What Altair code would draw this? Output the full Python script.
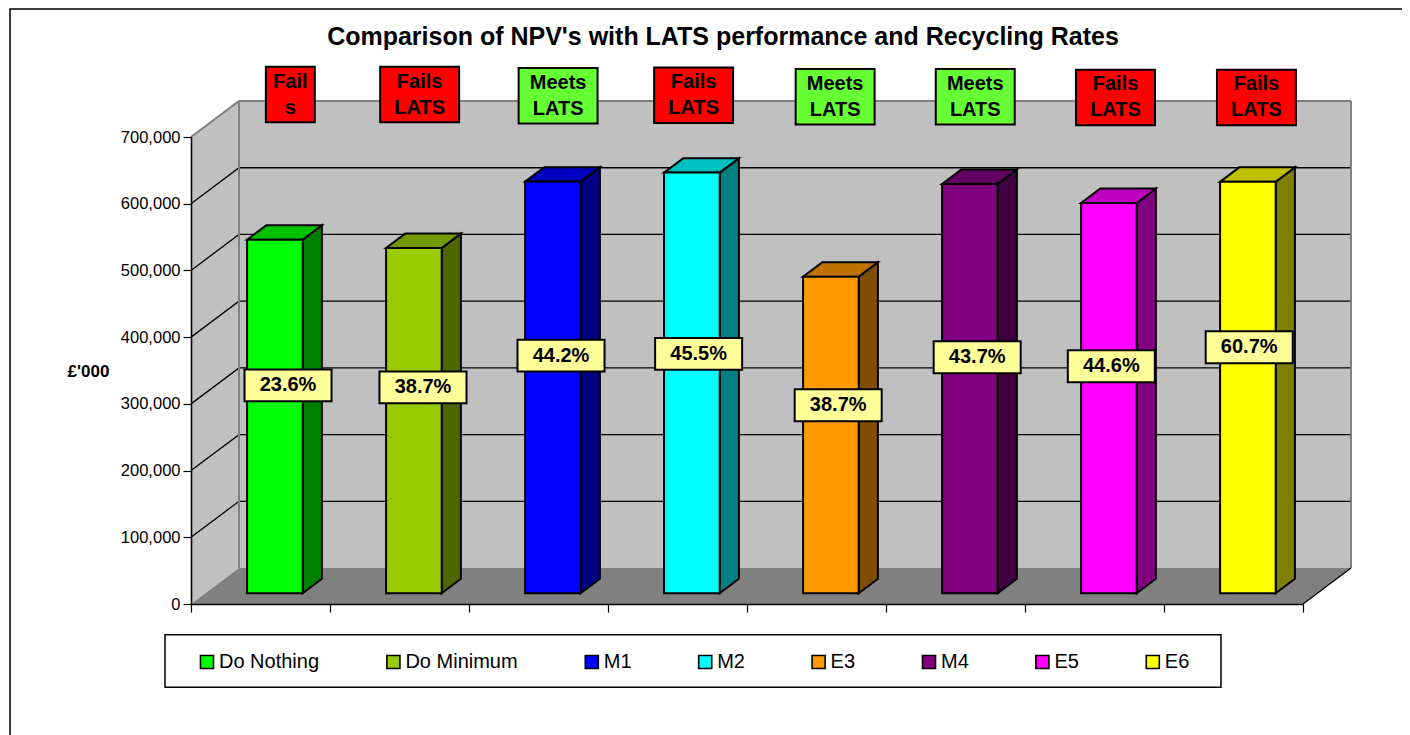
import altair as alt
import pandas as pd

# ---- chart values ----
names = ["Do Nothing", "Do Minimum", "M1", "M2", "E3", "M4", "E5", "E6"]
npv = [530000, 517500, 617000, 630500, 474500, 613500, 585000, 616800]
recycling = ["23.6%", "38.7%", "44.2%", "45.5%", "38.7%", "43.7%", "44.6%", "60.7%"]
lats = ["Fail\ns", "Fails\nLATS", "Meets\nLATS", "Fails\nLATS",
        "Meets\nLATS", "Meets\nLATS", "Fails\nLATS", "Fails\nLATS"]
front = ["#00FF00", "#99CC00", "#0000FF", "#00FFFF", "#FF9900", "#800080", "#FF00FF", "#FFFF00"]
side = ["#008000", "#4D6600", "#000080", "#008080", "#804D00", "#400040", "#800080", "#808000"]
top = ["#00C000", "#739900", "#0000C0", "#00C0C0", "#C07300", "#600060", "#C000C0", "#C0C000"]
lats_fill = {"Fail": "#FF0000", "Fails": "#FF0000", "Meets": "#66FF33"}
ticks_y = [100000, 200000, 300000, 400000, 500000, 600000]

# ---- callout placement, in chart units (category position, value level) ----
rate_pos = [0.698, 1.669, 2.662, 3.652, 4.656, 5.656, 6.621, 7.613]
rate_level = [327700, 324700, 372300, 374900, 297900, 369800, 356300, 384700]
lats_pos = [0.7146, 1.645, 2.641, 3.616, 4.634, 5.642, 6.651, 7.665]
lats_level = [763600, 763600, 761800, 762600, 760400, 760400, 759300, 759300]
lats_half = [0.176, 0.284, 0.284, 0.284, 0.284, 0.284, 0.284, 0.284]
RATE_HALF_W, RATE_HALF_H, LATS_HALF_H = 0.313, 23950, 41600

# ---- oblique projection of the 3-D chart box ----
N = len(names)
YMAX = 700000
DX = 48 / 139      # category units per unit of depth
DY = 53900         # value units per unit of depth
D0, D1 = 0.3, 0.7  # depth span of the bars
W0, W1 = 0.3, 0.7  # width span of the bars within a category

FONT = "Liberation Sans"
XS = alt.Scale(domain=[0, N], nice=False, zero=False)
YS = alt.Scale(domain=[0, YMAX], nice=False, zero=False)
AX = alt.Axis(
    title=None, values=list(range(N + 1)), labels=False, tickSize=8, tickColor="black", tickWidth=1.2,
    domainColor="black", domainWidth=1.6, grid=False, zindex=1)
AY = alt.Axis(
    values=[0] + ticks_y + [YMAX], labelExpr="format(datum.value, ',')", tickSize=8, tickColor="black",
    tickWidth=1.2, domainColor="black", domainWidth=1.6, grid=False, zindex=1, labelFont=FONT,
    labelFontSize=16.5, labelColor="black", labelPadding=3,
    title="£'000", titleAngle=0, titleFont=FONT, titleFontSize=17, titleFontWeight="bold",
    titleColor="black", titleX=-103, titleY=234, titleAlign="center", titleBaseline="middle")


def X(field="x"):
    return alt.X(f"{field}:Q", scale=XS, axis=AX)


def Y(field="y"):
    return alt.Y(f"{field}:Q", scale=YS, axis=AY, stack=None)


X2 = alt.X2("x2:Q")
Y2 = alt.Y2("y2:Q")

# ---- frame ----
frame = alt.Chart(pd.DataFrame([{"x": -1.302, "x2": 8.95, "y": 892000, "y2": -210000}])).mark_rect(
    fill="white", stroke="black", strokeWidth=1.5
).encode(x=X(), x2=X2, y=Y(), y2=Y2)

# ---- chart box ----
wall = alt.Chart(pd.DataFrame([{"x": DX, "x2": N + DX, "y": DY, "y2": YMAX + DY}])).mark_rect(
    fill="#C0C0C0"
).encode(x=X(), x2=X2, y=Y(), y2=Y2)

side_wall = alt.Chart(pd.DataFrame([
    {"x": 0, "y": 0, "y2": YMAX},
    {"x": DX, "y": DY, "y2": YMAX + DY},
])).mark_area(fill="#C0C0C0").encode(x=X(), y=Y(), y2=Y2)

floor = alt.Chart(pd.DataFrame([
    {"x": 0, "y": 0, "y2": 0},
    {"x": DX, "y": 0, "y2": DY},
    {"x": N, "y": 0, "y2": DY},
    {"x": N + DX, "y": DY, "y2": DY},
])).mark_area(fill="#808080").encode(x=X(), y=Y(), y2=Y2)

grid_rows = []
for v in ticks_y:
    grid_rows += [{"x": 0, "y": v, "k": v}, {"x": DX, "y": v + DY, "k": v}, {"x": N + DX, "y": v + DY, "k": v}]
grid = alt.Chart(pd.DataFrame(grid_rows)).mark_line(color="black", strokeWidth=1.3).encode(
    x=X(), y=Y(), detail="k:N"
)

top_edge = alt.Chart(pd.DataFrame([
    {"x": 0, "y": YMAX}, {"x": DX, "y": YMAX + DY}, {"x": N + DX, "y": YMAX + DY},
])).mark_line(color="#808080", strokeWidth=2).encode(x=X(), y=Y())

wall_edges = alt.Chart(pd.DataFrame([
    {"x": DX, "y": DY, "y2": YMAX + DY},
    {"x": N + DX, "y": DY, "y2": YMAX + DY},
])).mark_rule(color="#808080", strokeWidth=2).encode(x=X(), y=Y(), y2=Y2)

floor_edge = alt.Chart(pd.DataFrame([
    {"x": N, "y": 0}, {"x": N + DX, "y": DY},
])).mark_line(color="black", strokeWidth=1.3).encode(x=X(), y=Y())

# ---- legend box ----
legend_box = alt.Chart(pd.DataFrame([{"x": -0.187, "x2": 7.41, "y": -46000, "y2": -124700}])).mark_rect(
    fill="white", stroke="black", strokeWidth=1.5
).encode(x=X(), x2=X2, y=Y(), y2=Y2)

# ---- bars ----
front_rows, side_rows, top_rows = [], [], []
for i, v in enumerate(npv):
    xa, xb = i + W0 + D0 * DX, i + W1 + D0 * DX
    ya, yb = D0 * DY, v + D0 * DY
    ddx, ddy = (D1 - D0) * DX, (D1 - D0) * DY
    front_rows.append({"name": names[i], "x": xa, "x2": xb, "y": ya, "y2": yb})
    side_rows += [
        {"k": names[i], "c": side[i], "x": xb, "y": ya, "y2": yb},
        {"k": names[i], "c": side[i], "x": xb + ddx, "y": ya + ddy, "y2": yb + ddy},
    ]
    top_rows += [
        {"k": names[i], "c": top[i], "x": xa, "y": yb, "y2": yb},
        {"k": names[i], "c": top[i], "x": xa + ddx, "y": yb, "y2": yb + ddy},
        {"k": names[i], "c": top[i], "x": xb, "y": yb, "y2": yb + ddy},
        {"k": names[i], "c": top[i], "x": xb + ddx, "y": yb + ddy, "y2": yb + ddy},
    ]

bar_side = alt.Chart(pd.DataFrame(side_rows)).mark_area(stroke="black", strokeWidth=2).encode(
    x=X(), y=Y(), y2=Y2, detail="k:N", fill=alt.Fill("c:N", scale=None)
)
bar_top = alt.Chart(pd.DataFrame(top_rows)).mark_area(stroke="black", strokeWidth=2).encode(
    x=X(), y=Y(), y2=Y2, detail="k:N", fill=alt.Fill("c:N", scale=None)
)
bar_front = alt.Chart(pd.DataFrame(front_rows)).mark_rect(stroke="black", strokeWidth=2).encode(
    x=X(), x2=X2, y=Y(), y2=Y2,
    fill=alt.Fill("name:N", sort=None, scale=alt.Scale(domain=names, range=front), legend=alt.Legend(
        title=None, orient="none", legendX=6, legendY=515, direction="horizontal", columns=8,
        gridAlign="none", columnPadding=63.4, padding=0,
        symbolType="square", symbolSize=170, symbolStrokeColor="black", symbolStrokeWidth=1.6,
        labelFont=FONT, labelFontSize=20, labelColor="black", labelOffset=2, symbolOffset=0,
    )),
)

# ---- callouts ----
rate_df = pd.DataFrame({
    "t": recycling,
    "x": [p - RATE_HALF_W for p in rate_pos],
    "x2": [p + RATE_HALF_W for p in rate_pos],
    "y": [l - RATE_HALF_H for l in rate_level],
    "y2": [l + RATE_HALF_H for l in rate_level],
    "cx": rate_pos,
    "cy": rate_level,
})
rate_box = alt.Chart(rate_df).mark_rect(fill="#FFFF99", stroke="black", strokeWidth=2).encode(
    x=X(), x2=X2, y=Y(), y2=Y2
)
rate_text = alt.Chart(rate_df).mark_text(
    font=FONT, fontSize=20, fontWeight="bold", color="black", baseline="middle"
).encode(x=X("cx"), y=Y("cy"), text="t:N")

lats_df = pd.DataFrame({
    "t": lats,
    "fill": [lats_fill[t.split("\n")[0]] for t in lats],
    "x": [p - h for p, h in zip(lats_pos, lats_half)],
    "x2": [p + h for p, h in zip(lats_pos, lats_half)],
    "y": [l - LATS_HALF_H for l in lats_level],
    "y2": [l + LATS_HALF_H for l in lats_level],
    "cx": lats_pos,
    "cy": lats_level,
})
lats_box = alt.Chart(lats_df).mark_rect(stroke="black", strokeWidth=2).encode(
    x=X(), x2=X2, y=Y(), y2=Y2, fill=alt.Fill("fill:N", scale=None)
)
lats_text = alt.Chart(lats_df).mark_text(
    font=FONT, fontSize=20, fontWeight="bold", color="black", baseline="middle",
    lineBreak="\n", lineHeight=26, dy=-13,
).encode(x=X("cx"), y=Y("cy"), text="t:N")

chart = alt.layer(
    frame, wall, side_wall, floor, grid, top_edge, wall_edges, floor_edge, legend_box,
    bar_side, bar_top, bar_front, lats_box, lats_text, rate_box, rate_text,
).properties(
    width=1112,
    height=467,
    title=alt.TitleParams(
        "Comparison of NPV's with LATS performance and Recycling Rates",
        font=FONT, fontSize=25, fontWeight="bold", color="black", anchor="middle", dx=-24,
        frame="group", offset=-42,
    ),
    autosize=alt.AutoSizeParams(type="none"),
    padding={"left": 183, "top": 129, "right": 99, "bottom": 131},
    background="white",
).configure_view(stroke=None)

chart.save("out.html", embed_options={"renderer": "svg", "actions": False})
